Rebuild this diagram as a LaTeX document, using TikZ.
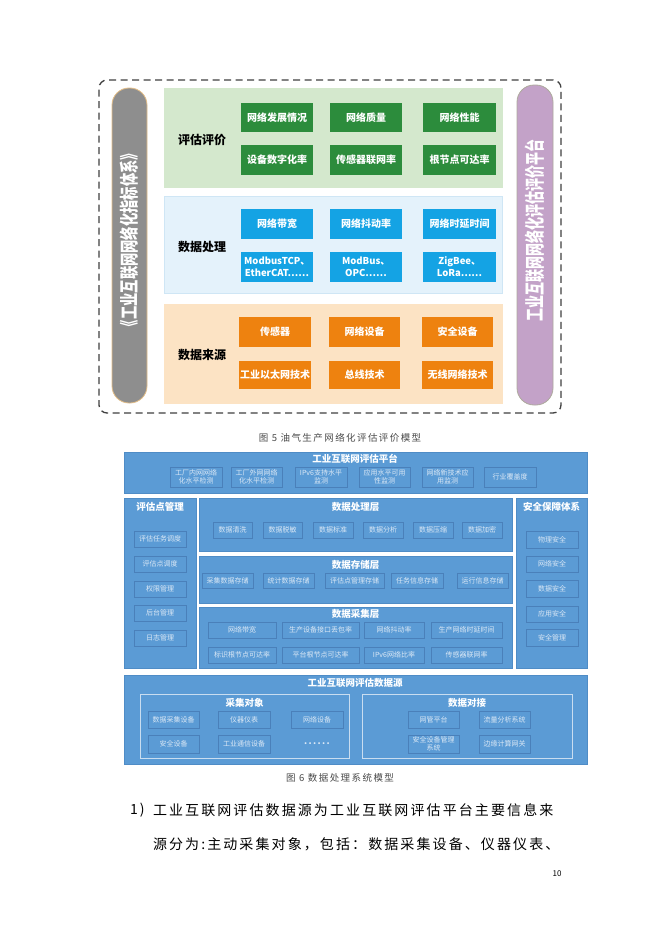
\documentclass[tikz,border=0pt]{standalone}
\usepackage{fontspec}
\setmainfont{Noto Sans CJK SC}
\newfontfamily\spaced[LetterSpace=15]{Noto Sans CJK SC}
\definecolor{cGP}{HTML}{D4E8CD}
\definecolor{cGB}{HTML}{2C8C3C}
\definecolor{cBP}{HTML}{E4F2FB}
\definecolor{cBPl}{HTML}{CFE6F5}
\definecolor{cBB}{HTML}{14A3E4}
\definecolor{cOP}{HTML}{FCE3C4}
\definecolor{cOB}{HTML}{EE820F}
\definecolor{cPG}{HTML}{8E8E8E}
\definecolor{cPGl}{HTML}{E3BD86}
\definecolor{cPP}{HTML}{C3A2C8}
\definecolor{cPPl}{HTML}{ADAA9C}
\definecolor{cSix}{HTML}{5B9BD5}
\definecolor{cSixl}{HTML}{4F8CC6}
\definecolor{cSixBox}{HTML}{4A80BA}
\definecolor{cSixTxt}{HTML}{DCE9F6}
\definecolor{cGrp}{HTML}{C9DDF0}
\definecolor{cCap}{HTML}{4A4A4A}
\newcommand\bx[7]{\node[#2, minimum width={(#5-#3)*1pt}, minimum height={(#6-#4)*1pt}] (#1) at ({(#3+#5)/2},{(#4+#6)/2}) {#7};}
\tikzset{
  base/.style={inner sep=0pt, outer sep=0pt, align=center},
  gbox/.style={base, fill=cGB, text=white, font=\bfseries\fontsize{10}{12}\selectfont},
  bbox/.style={base, fill=cBB, text=white, font=\bfseries\fontsize{10}{12}\selectfont},
  bboxs/.style={base, fill=cBB, text=white, font=\bfseries\fontsize{9.5}{12}\selectfont},
  obox/.style={base, fill=cOB, text=white, font=\bfseries\fontsize{10}{12}\selectfont},
  panelfive/.style={base, draw=#1, line width=0.4pt},
  lblfive/.style={base, font=\bfseries\fontsize{12}{14}\selectfont, text=black},
  pill/.style={base, rounded corners=17pt, line width=0.8pt},
  pilltxt/.style={base, text=white, transform shape},
  six/.style={base, fill=cSix, draw=cSixl, line width=0.5pt},
  sixt/.style={base, text=white, font=\bfseries\fontsize{9.5}{11}\selectfont},
  sbox/.style={base, fill=cSix, draw=cSixBox, line width=0.6pt, text=cSixTxt, font=\fontsize{7}{8.2}\selectfont},
  grp/.style={base, draw=cGrp, line width=0.7pt},
  captxt/.style={base, text=cCap, font=\spaced\fontsize{9.5}{11}\selectfont},
  para/.style={inner sep=0pt, outer sep=0pt, anchor=west, text=black, font=\spaced\fontsize{14}{16}\selectfont},
}
\begin{document}
\begin{tikzpicture}[x=1pt,y=-1pt]
\useasboundingbox (0,0) rectangle (662,934);
\fill[white] (0,0) rectangle (662,934);
% ---------------- Figure 5 ----------------
\node[base, draw=black!75, dash pattern=on 7pt off 4.5pt, line width=1.3pt, rounded corners=8pt, minimum width=462pt, minimum height=333pt] (frame5) at (330,246.5) {};
\bx{lpill}{pill, fill=cPG, draw=cPGl}{112}{88}{147}{403}{}
\begin{scope}[shift={(129.5,240)}, rotate=90, xscale=0.7]
\node[pilltxt, font=\bfseries\fontsize{19}{21}\selectfont] (ltxt) at (0,0) {《工业互联网网络化指标体系》};
\end{scope}
\bx{rpill}{pill, fill=cPP, draw=cPPl}{517}{85}{553}{405}{}
\begin{scope}[shift={(535,230)}, rotate=90, xscale=0.65]
\node[pilltxt, font=\bfseries\fontsize{20}{22}\selectfont] (rtxt) at (0,0) {工业互联网网络化评估评价平台};
\end{scope}
% panels
\bx{gpanel}{panelfive=cGP, fill=cGP}{164}{88}{502}{187}{}
\bx{bpanel}{panelfive=cBPl, fill=cBP}{164}{196}{502}{293}{}
\bx{opanel}{panelfive=cOP, fill=cOP}{164}{304}{502}{403}{}
\node[lblfive] (glbl) at (202,140) {评估评价};
\node[lblfive] (blbl) at (202,247) {数据处理};
\node[lblfive] (olbl) at (202,355) {数据来源};
% green boxes
\bx{g11}{gbox}{241}{103}{313}{132}{网络发展情况}
\bx{g12}{gbox}{330}{103}{402}{132}{网络质量}
\bx{g13}{gbox}{423}{103}{496}{132}{网络性能}
\bx{g21}{gbox}{241}{145}{313}{175}{设备数字化率}
\bx{g22}{gbox}{330}{145}{402}{175}{传感器联网率}
\bx{g23}{gbox}{423}{145}{496}{175}{根节点可达率}
% blue boxes
\bx{b11}{bbox}{241}{209}{313}{239}{网络带宽}
\bx{b12}{bbox}{330}{209}{402}{239}{网络抖动率}
\bx{b13}{bbox}{423}{209}{496}{239}{网络时延时间}
\bx{b21}{bboxs}{241}{252}{313}{282}{ModbusTCP、\\EtherCAT……}
\bx{b22}{bboxs}{330}{252}{402}{282}{ModBus、\\OPC……}
\bx{b23}{bboxs}{423}{252}{496}{282}{ZigBee、\\LoRa……}
% orange boxes
\bx{o11}{obox}{239}{317}{311}{347}{传感器}
\bx{o12}{obox}{329}{317}{400}{347}{网络设备}
\bx{o13}{obox}{422}{317}{493}{347}{安全设备}
\bx{o21}{obox}{239}{361}{311}{389}{工业以太网技术}
\bx{o22}{obox}{329}{361}{400}{389}{总线技术}
\bx{o23}{obox}{422}{361}{493}{389}{无线网络技术}
\node[captxt] (cap5) at (340,438) {图 5 油气生产网络化评估评价模型};
% ---------------- Figure 6 ----------------
\bx{plat}{six}{124}{452}{587}{493}{}
\node[sixt] (platt) at (355,459) {工业互联网评估平台};
\bx{p1}{sbox}{170}{467}{222}{487}{工厂内网网络\\化水平检测}
\bx{p2}{sbox}{231}{467}{282}{487}{工厂外网网络\\化水平检测}
\bx{p3}{sbox}{295}{467}{347}{487}{IPv6支持水平\\监测}
\bx{p4}{sbox}{359}{467}{410}{487}{应用水平可用\\性监测}
\bx{p5}{sbox}{422}{467}{473}{487}{网络新技术应\\用监测}
\bx{p6}{sbox}{484}{467}{536}{487}{行业覆盖度}
% left column
\bx{lcol}{six}{124}{498}{196}{668}{}
\node[sixt] (lcolt) at (160,507) {评估点管理};
\bx{l1}{sbox}{134}{531}{186}{547}{评估任务调度}
\bx{l2}{sbox}{134}{556}{186}{572}{评估点调度}
\bx{l3}{sbox}{134}{581}{186}{597}{权限管理}
\bx{l4}{sbox}{134}{605}{186}{621}{后台管理}
\bx{l5}{sbox}{134}{630}{186}{646}{日志管理}
% processing layer
\bx{proc}{six}{199}{498}{512}{551}{}
\node[sixt] (proct) at (355.5,507) {数据处理层};
\bx{d1}{sbox}{213}{522}{252}{538}{数据清洗}
\bx{d2}{sbox}{263}{522}{302}{538}{数据脱敏}
\bx{d3}{sbox}{313}{522}{353}{538}{数据标准}
\bx{d4}{sbox}{363}{522}{403}{538}{数据分析}
\bx{d5}{sbox}{413}{522}{453}{538}{数据压缩}
\bx{d6}{sbox}{462}{522}{502}{538}{数据加密}
% storage layer
\bx{stor}{six}{199}{556}{512}{603}{}
\node[sixt] (stort) at (355.5,565) {数据存储层};
\bx{s1}{sbox}{202}{573}{253}{588}{采集数据存储}
\bx{s2}{sbox}{263}{573}{314}{588}{统计数据存储}
\bx{s3}{sbox}{325}{573}{384}{588}{评估点管理存储}
\bx{s4}{sbox}{391}{573}{443}{588}{任务信息存储}
\bx{s5}{sbox}{457}{573}{508}{588}{运行信息存储}
% collection layer
\bx{coll}{six}{199}{607}{512}{668}{}
\node[sixt] (collt) at (355.5,614) {数据采集层};
\bx{c11}{sbox}{208}{622}{276}{638}{网络带宽}
\bx{c12}{sbox}{282}{622}{359}{638}{生产设备接口丢包率}
\bx{c13}{sbox}{364}{622}{424}{638}{网络抖动率}
\bx{c14}{sbox}{431}{622}{502}{638}{生产网络时延时间}
\bx{c21}{sbox}{208}{647}{276}{663}{标识根节点可达率}
\bx{c22}{sbox}{282}{647}{359}{663}{平台根节点可达率}
\bx{c23}{sbox}{364}{647}{424}{663}{IPv6网络比率}
\bx{c24}{sbox}{431}{647}{502}{663}{传感器联网率}
% right column
\bx{rcol}{six}{516}{498}{587}{668}{}
\node[sixt] (rcolt) at (551.5,507) {安全保障体系};
\bx{r1}{sbox}{526}{531}{578}{548}{物理安全}
\bx{r2}{sbox}{526}{556}{578}{572}{网络安全}
\bx{r3}{sbox}{526}{580}{578}{597}{数据安全}
\bx{r4}{sbox}{526}{606}{578}{622}{应用安全}
\bx{r5}{sbox}{526}{629}{578}{646}{安全管理}
% data source
\bx{src}{six}{124}{675}{587}{764}{}
\node[sixt] (srct) at (355,683) {工业互联网评估数据源};
\bx{grp1}{grp}{140}{694}{349}{758}{}
\node[sixt] (grp1t) at (244.5,703) {采集对象};
\bx{a11}{sbox}{148}{711}{199}{728}{数据采集设备}
\bx{a12}{sbox}{218}{711}{270}{728}{仪器仪表}
\bx{a13}{sbox}{291}{711}{343}{728}{网络设备}
\bx{a21}{sbox}{148}{735}{199}{753}{安全设备}
\bx{a22}{sbox}{218}{735}{270}{753}{工业通信设备}
\node[base, text=cSixTxt, font=\spaced\bfseries\fontsize{9}{10}\selectfont] (a23) at (317,744) {......};
\bx{grp2}{grp}{362}{694}{572}{758}{}
\node[sixt] (grp2t) at (467,703) {数据对接};
\bx{e11}{sbox}{408}{711}{459}{728}{网管平台}
\bx{e12}{sbox}{479}{711}{530}{728}{流量分析系统}
\bx{e21}{sbox}{408}{735}{459}{753}{安全设备管理\\系统}
\bx{e22}{sbox}{479}{735}{530}{753}{边缘计算网关}
\node[captxt] (cap6) at (340,778) {图 6 数据处理系统模型};
% ---------------- paragraph ----------------
\node[para] (num1) at (130,810) {1)};
\node[para] (line1) at (153,810) {工业互联网评估数据源为工业互联网评估平台主要信息来};
\node[para] (line2) at (153,844) {源分为:主动采集对象，包括：数据采集设备、仪器仪表、};
\node[base, font=\fontsize{8}{9}\selectfont, text=black] (pnum) at (557,874) {10};
\end{tikzpicture}
\end{document}
